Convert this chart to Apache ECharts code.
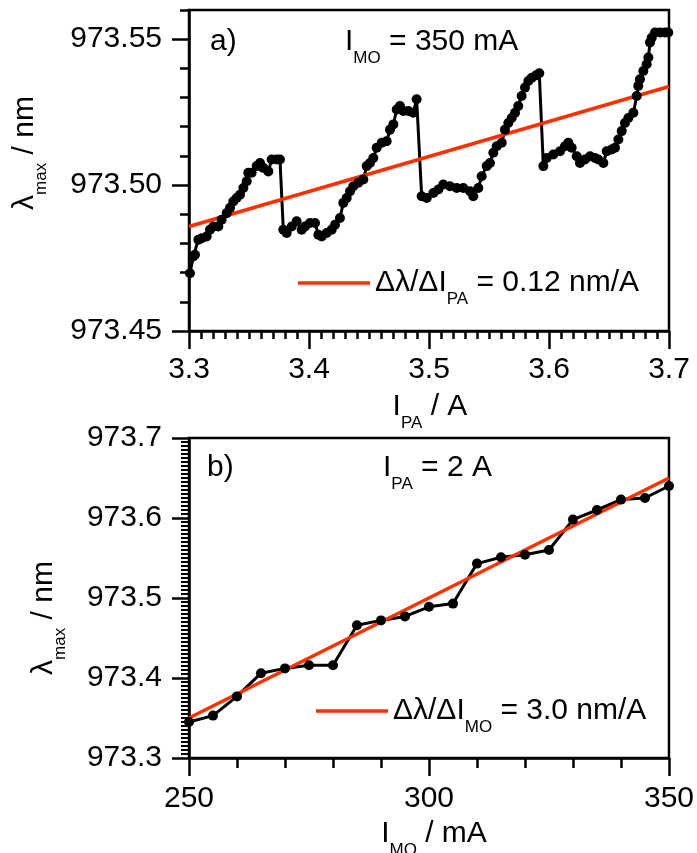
<!DOCTYPE html>
<html><head><meta charset="utf-8">
<script src="https://cdn.jsdelivr.net/npm/echarts@6/dist/echarts.min.js"></script>
<style>html,body{margin:0;padding:0;background:#fff}#c{width:697px;height:853px}</style>
</head><body><div id="c"></div>
<script>
// Panel a) : lambda_max vs I_PA at I_MO = 350 mA
const currentA = [3.3008,3.3036,3.3050,3.3078,3.3106,3.3147,3.3175,3.3203,3.3244,3.3272,3.3314,3.3342,3.3369,3.3397,3.3425,3.3453,3.3481,3.3494,3.3522,3.3564,3.3592,3.3619,3.3661,3.3689,3.3731,3.3758,3.3786,3.3814,3.3856,3.3897,3.3939,3.3967,3.4008,3.4050,3.4078,3.4106,3.4147,3.4189,3.4217,3.4258,3.4286,3.4314,3.4342,3.4369,3.4411,3.4453,3.4481,3.4508,3.4536,3.4564,3.4606,3.4647,3.4675,3.4703,3.4731,3.4758,3.4786,3.4828,3.4869,3.4897,3.4939,3.4981,3.5036,3.5078,3.5119,3.5175,3.5231,3.5286,3.5342,3.5369,3.5411,3.5439,3.5481,3.5508,3.5536,3.5564,3.5606,3.5633,3.5661,3.5689,3.5717,3.5744,3.5772,3.5800,3.5828,3.5856,3.5892,3.5919,3.5953,3.5981,3.6036,3.6092,3.6133,3.6161,3.6189,3.6231,3.6258,3.6300,3.6342,3.6383,3.6411,3.6453,3.6481,3.6522,3.6550,3.6578,3.6606,3.6633,3.6661,3.6703,3.6731,3.6744,3.6758,3.6786,3.6814,3.6828,3.6842,3.6856,3.6883,3.6925,3.6967,3.6994];
const lambdaA = [973.4698,973.4755,973.4761,973.4813,973.4818,973.4824,973.4847,973.4858,973.4858,973.4881,973.4904,973.4922,973.4944,973.4956,973.4967,973.4990,973.5013,973.5042,973.5042,973.5065,973.5076,973.5059,973.5047,973.5088,973.5088,973.5088,973.4847,973.4836,973.4858,973.4876,973.4847,973.4858,973.4870,973.4870,973.4830,973.4824,973.4836,973.4847,973.4864,973.4887,973.4939,973.4956,973.4979,973.4996,973.5008,973.5019,973.5065,973.5076,973.5093,973.5128,973.5145,973.5150,973.5190,973.5208,973.5259,973.5271,973.5254,973.5254,973.5248,973.5294,973.4962,973.4956,973.4973,973.4985,973.5002,973.4996,973.4990,973.4990,973.4979,973.4962,973.4990,973.5030,973.5065,973.5076,973.5111,973.5133,973.5145,973.5190,973.5213,973.5230,973.5248,973.5271,973.5305,973.5334,973.5357,973.5368,973.5376,973.5383,973.5065,973.5093,973.5105,973.5116,973.5133,973.5145,973.5128,973.5099,973.5076,973.5088,973.5099,973.5093,973.5088,973.5076,973.5116,973.5122,973.5128,973.5156,973.5185,973.5213,973.5230,973.5248,973.5305,973.5340,973.5363,973.5391,973.5414,973.5437,973.5489,973.5505,973.5523,973.5523,973.5523,973.5523];
const fitAx = [3.3, 3.7];
const fitAy = [973.4858, 973.5338];

// Panel b) : lambda_max vs I_MO at I_PA = 2 A
const currentB = [250,255,260,265,270,275,280,285,290,295,300,305,310,315,320,325,330,335,340,345,350];
const lambdaB = [973.345,973.353,973.377,973.406,973.412,973.416,973.416,973.466,973.472,973.477,973.489,973.493,973.543,973.551,973.554,973.560,973.598,973.610,973.623,973.625,973.640];
const fitBx = [250, 350];
const fitBy = [973.35, 973.65];

const majorTicksA = [973.45, 973.50, 973.55];

const F = 'Liberation Sans';
const FS = 30;
const RED = '#ff3000';
const zip = (a, b) => a.map((v, i) => [v, b[i]]);
const subRich = { s: { fontFamily: F, fontSize: 17, color: '#000', padding: [32, 0, 0, 0] } };

const axisLine = { show: true, onZero: false, lineStyle: { color: '#000', width: 2.5 } };
const lbl = (extra) => Object.assign({ color: '#000', fontFamily: F, fontSize: FS }, extra);

function txt(x, y, text, align, rot) {
  return {
    type: 'text', x: x, y: y, rotation: rot || 0, silent: true,
    style: { text: text, x: 0, y: 0, fontFamily: F, fontSize: FS, fill: '#000',
      align: align, textAlign: align, verticalAlign: 'middle', textVerticalAlign: 'middle', rich: subRich }
  };
}

const option = {
  animation: false,
  backgroundColor: '#fff',
  grid: [
    { left: 189, top: 10, width: 480, height: 321, show: true, borderColor: '#000', borderWidth: 2.5, backgroundColor: 'transparent' },
    { left: 189, top: 438, width: 480, height: 320, show: true, borderColor: '#000', borderWidth: 2.5, backgroundColor: 'transparent' }
  ],
  xAxis: [
    { type: 'value', gridIndex: 0, min: 3.3, max: 3.7, interval: 0.1, position: 'bottom',
      axisLine: axisLine,
      axisTick: { show: true, inside: false, length: 18, lineStyle: { color: '#000', width: 2.5 } },
      minorTick: { show: true, splitNumber: 10, length: 8, lineStyle: { color: '#000', width: 2.5 } },
      axisLabel: lbl({ margin: 24, formatter: v => v.toFixed(1) }),
      splitLine: { show: false }, minorSplitLine: { show: false } },
    { type: 'value', gridIndex: 1, min: 250, max: 350, interval: 50, position: 'bottom',
      axisLine: axisLine,
      axisTick: { show: true, inside: false, length: 18, lineStyle: { color: '#000', width: 2.5 } },
      minorTick: { show: true, splitNumber: 5, length: 10, lineStyle: { color: '#000', width: 2.5 } },
      axisLabel: lbl({ margin: 26, formatter: v => String(Math.round(v)) }),
      splitLine: { show: false }, minorSplitLine: { show: false } }
  ],
  yAxis: [
    { type: 'value', gridIndex: 0, min: 973.45, max: 973.56, interval: 0.01, position: 'left',
      axisLine: axisLine,
      axisTick: { show: true, inside: false, length: 9, lineStyle: { color: '#000', width: 2.5 } },
      axisLabel: lbl({ margin: 27, formatter: v => (Math.abs(v * 20 - Math.round(v * 20)) < 1e-6 ? v.toFixed(2) : '') }),
      splitLine: { show: false } },
    { type: 'value', gridIndex: 0, min: 973.45, max: 973.56, interval: 0.05, position: 'left', offset: 0,
      axisLine: { show: false },
      axisTick: { show: true, inside: false, length: 17, customValues: majorTicksA, lineStyle: { color: '#000', width: 2.5 } },
      axisLabel: { show: false },
      splitLine: { show: false } },
    { type: 'value', gridIndex: 1, min: 973.3, max: 973.7, interval: 0.1, position: 'left',
      axisLine: axisLine,
      axisTick: { show: true, inside: false, length: 17, lineStyle: { color: '#000', width: 2.5 } },
      minorTick: { show: true, splitNumber: 20, length: 8, lineStyle: { color: '#000', width: 2 } },
      axisLabel: lbl({ margin: 27, formatter: v => v.toFixed(1) }),
      splitLine: { show: false }, minorSplitLine: { show: false } }
  ],
  legend: [
    { data: ['fitA'], left: 298, top: 268, padding: 0, icon: 'rect', itemWidth: 72, itemHeight: 3.5,
      formatter: () => 'Δλ/ΔI{s|PA} = 0.12 nm/A',
      textStyle: { fontFamily: F, fontSize: FS, color: '#000', rich: subRich } },
    { data: ['fitB'], left: 316, top: 696, padding: 0, icon: 'rect', itemWidth: 72, itemHeight: 3.5,
      formatter: () => 'Δλ/ΔI{s|MO} = 3.0 nm/A',
      textStyle: { fontFamily: F, fontSize: FS, color: '#000', rich: subRich } }
  ],
  series: [
    { type: 'line', name: 'dataA', xAxisIndex: 0, yAxisIndex: 0, data: zip(currentA, lambdaA),
      symbol: 'circle', symbolSize: 10, lineStyle: { color: '#000', width: 3 }, itemStyle: { color: '#000' } },
    { type: 'line', name: 'fitA', xAxisIndex: 0, yAxisIndex: 0, data: zip(fitAx, fitAy),
      showSymbol: false, lineStyle: { color: RED, width: 3.5 }, itemStyle: { color: RED } },
    { type: 'line', name: 'dataB', xAxisIndex: 1, yAxisIndex: 2, data: zip(currentB, lambdaB),
      symbol: 'circle', symbolSize: 10, lineStyle: { color: '#000', width: 3 }, itemStyle: { color: '#000' } },
    { type: 'line', name: 'fitB', xAxisIndex: 1, yAxisIndex: 2, data: zip(fitBx, fitBy),
      showSymbol: false, lineStyle: { color: RED, width: 3.5 }, itemStyle: { color: RED } }
  ],
  graphic: [
    txt(210, 42, 'a)', 'left'),
    txt(345, 42, 'I{s|MO} = 350 mA', 'left'),
    txt(207, 468, 'b)', 'left'),
    txt(383, 468, 'I{s|PA} = 2 A', 'left'),
    txt(430, 407, 'I{s|PA} / A', 'center'),
    txt(434, 834, 'I{s|MO} / mA', 'center'),
    txt(25, 153, 'λ{s|max} / nm', 'center', Math.PI / 2),
    txt(44, 618, 'λ{s|max} / nm', 'center', Math.PI / 2)
  ]
};

const chart = echarts.init(document.getElementById('c'), null, { renderer: 'canvas' });
chart.setOption(option);
</script>
</body></html>
